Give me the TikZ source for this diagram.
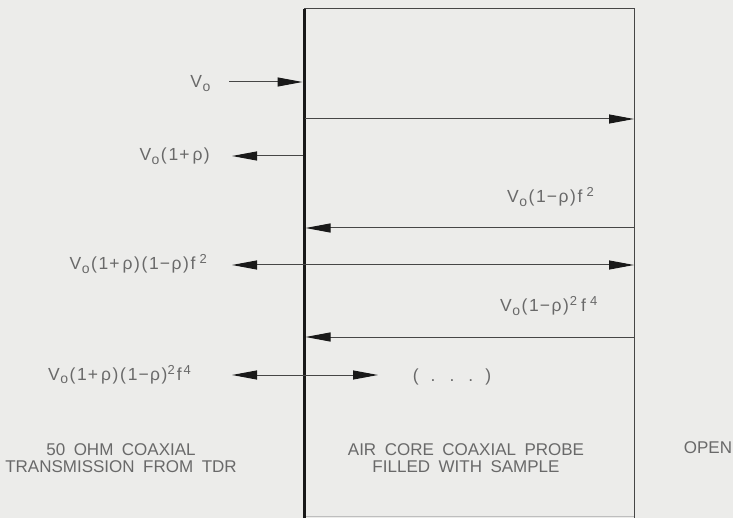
\documentclass[tikz,border=0pt]{standalone}
\usepackage{fontspec}
\setmainfont{Liberation Sans}
\usetikzlibrary{arrows.meta}
\definecolor{bg}{RGB}{236,236,234}
\definecolor{ink}{RGB}{105,105,105}
\definecolor{wire}{RGB}{70,70,70}
\definecolor{wall}{RGB}{25,25,25}
\newcommand\Vo{V\kern0.5pt\raisebox{-3.5pt}{\fontsize{14}{14}\selectfont o}\kern1.5pt}
\newcommand\sps[1]{\raisebox{6pt}{\fontsize{13}{13}\selectfont #1}}
\newcommand\pls{\kern1pt+\kern3pt}
\newcommand\mns{\kern1pt−\kern1.5pt}
\newcommand\rh{ρ\kern1.5pt}
\newcommand\capfont{\fontsize{17}{17}\selectfont\spaceskip 8.5pt\relax}
\begin{document}
\begin{tikzpicture}[x=1pt,y=-1pt,
  font=\fontsize{17}{17}\selectfont,
  wallline/.style={line width=3pt, draw=wall},
  boxline/.style={line width=1pt, draw=wire},
  sig/.style={line width=1pt, draw=wire, -{Triangle[length=25pt,width=9pt,color=wall]}},
  sigboth/.style={line width=1pt, draw=wire, {Triangle[length=25pt,width=9pt,color=wall]}-{Triangle[length=25pt,width=9pt,color=wall]}},
  lbl/.style={text=ink, inner sep=0pt, font=\fontsize{17.5}{17.5}\selectfont\addfontfeature{LetterSpace=10}},
  captxt/.style={text=ink, inner sep=0pt, anchor=base, font=\capfont}]
\fill[bg] (0,0) rectangle (733,518);
\useasboundingbox (0,0) rectangle (733,518);
% probe
\coordinate (wtop) at (304,9);
\coordinate (wbot) at (304,518);
\coordinate (otop) at (634,9);
\coordinate (obot) at (634,518);
\draw[boxline] (wtop) -- (otop) -- (obot);
\draw[boxline, draw=wire!35] (304,516) -- (634,516);
\draw[wallline] (wtop) -- (wbot);
% signal coordinates
\coordinate (a1s) at (229,82);  \coordinate (a1e) at (302.5,82);
\coordinate (a2s) at (305,119); \coordinate (a2e) at (634,119);
\coordinate (a3s) at (303,156); \coordinate (a3e) at (232,156);
\coordinate (a4s) at (634,228); \coordinate (a4e) at (305.5,228);
\coordinate (a5l) at (232,265); \coordinate (a5r) at (634,265);
\coordinate (a6s) at (634,337); \coordinate (a6e) at (305.5,337);
\coordinate (a7l) at (232,375); \coordinate (a7r) at (378,375);
\draw[sig] (a1s) -- (a1e);
\draw[sig] (a2s) -- (a2e);
\draw[sig] (a3s) -- (a3e);
\draw[sig] (a4s) -- (a4e);
\draw[sigboth] (a5l) -- (a5r);
\draw[sig] (a6s) -- (a6e);
\draw[sigboth] (a7l) -- (a7r);
% labels
\node[lbl, anchor=base east] (l1) at (212,88) {\Vo};
\node[lbl, anchor=base east] (l2) at (210,161) {\Vo(1\pls\rh)};
\node[lbl, anchor=base east] (l3) at (207,270) {\Vo(1\pls\rh)(1\mns\rh)f\kern4pt\sps{2}};
\node[lbl, anchor=base west] (l4) at (48,380) {\Vo(1\pls\rh)(1\mns\rh)\sps{2}\kern2pt f\kern2pt\sps{4}};
\node[lbl, anchor=base west] (r1) at (507,203) {\Vo(1\mns\rh)f\kern4pt\sps{2}};
\node[lbl, anchor=base west] (r2) at (500,312) {\Vo(1\mns\rh)\kern1pt\sps{2}\kern4pt f\kern4pt\sps{4}};
\node[lbl, anchor=base] (dots) at (452,381) {(\kern12pt.\kern14pt.\kern14pt.\kern12pt)};
% region captions
\node[captxt] (c1a) at (121,455) {50 OHM COAXIAL};
\node[captxt] (c1b) at (121,472) {TRANSMISSION FROM TDR};
\node[captxt] (c2a) at (466,455) {AIR CORE COAXIAL PROBE};
\node[captxt] (c2b) at (466,472) {FILLED WITH SAMPLE};
\node[captxt] (c3) at (708,453) {OPEN};
\end{tikzpicture}
\end{document}
